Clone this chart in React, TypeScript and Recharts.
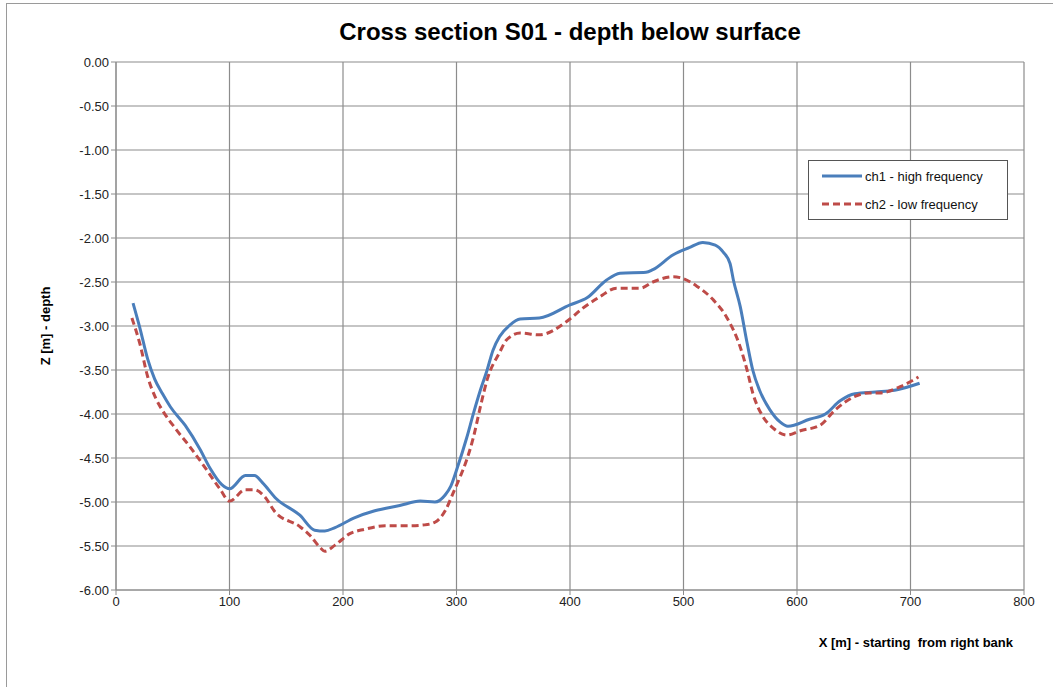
import { CartesianGrid, Line, LineChart, XAxis, YAxis } from "recharts";

// ch1 - high frequency
const ch1X = [15, 21, 28, 34, 41, 48, 61, 74, 83, 93, 100, 114, 122, 129, 141, 162, 175, 184, 193, 210, 228, 250, 268, 281, 290, 295, 301, 309, 315, 321, 327, 332, 338, 347, 356, 373, 400, 415, 432, 444, 467, 473, 491, 505, 517, 528, 535, 541, 544, 550, 556, 561, 567, 576, 585, 592, 611, 625, 638, 651, 669, 686, 708];
const ch1Z = [-2.74, -3.02, -3.38, -3.6, -3.77, -3.92, -4.13, -4.4, -4.62, -4.8, -4.85, -4.7, -4.7, -4.78, -4.96, -5.15, -5.32, -5.33, -5.29, -5.18, -5.1, -5.04, -4.99, -5.0, -4.92, -4.82, -4.6, -4.27, -3.99, -3.73, -3.5, -3.28, -3.12, -2.99, -2.92, -2.91, -2.76, -2.68, -2.48, -2.4, -2.39, -2.36, -2.19, -2.11, -2.05, -2.08, -2.16, -2.29, -2.48, -2.78, -3.19, -3.5, -3.73, -3.95, -4.09, -4.14, -4.06, -4.0, -3.85, -3.77, -3.75, -3.73, -3.65];

// ch2 - low frequency
const ch2X = [14, 21, 28, 35, 41, 52, 65, 78, 92, 100, 114, 122, 131, 140, 162, 171, 180, 184, 193, 206, 219, 237, 259, 272, 281, 290, 297, 303, 309, 315, 321, 327, 338, 344, 356, 373, 397, 411, 426, 441, 462, 473, 491, 497, 512, 526, 538, 550, 556, 561, 570, 579, 591, 603, 620, 634, 651, 664, 673, 691, 707];
const ch2Z = [-2.91, -3.2, -3.58, -3.82, -3.96, -4.16, -4.37, -4.6, -4.86, -4.99, -4.86, -4.86, -4.94, -5.11, -5.28, -5.38, -5.52, -5.56, -5.49, -5.36, -5.31, -5.27, -5.27, -5.26, -5.23, -5.1, -4.9, -4.72, -4.52, -4.26, -3.92, -3.61, -3.3, -3.16, -3.08, -3.1, -2.95, -2.8, -2.67, -2.57, -2.57, -2.5, -2.44, -2.45, -2.55, -2.7, -2.9, -3.24, -3.5, -3.76, -4.03, -4.16, -4.24, -4.19, -4.13, -3.95, -3.8, -3.76, -3.76, -3.69, -3.58];

const xTicks = [0, 100, 200, 300, 400, 500, 600, 700, 800];
const yTicks = [0, -0.5, -1, -1.5, -2, -2.5, -3, -3.5, -4, -4.5, -5, -5.5, -6];

const ch1 = ch1X.map((x, i) => ({ x, z: ch1Z[i] }));
const ch2 = ch2X.map((x, i) => ({ x, z: ch2Z[i] }));

const font = "'Liberation Sans', Arial, sans-serif";
const gridColor = "#8c8c8c";

function LegendBox() {
  const items = [
    { label: "ch1 - high frequency", color: "#4a7ebb", dash: undefined },
    { label: "ch2 - low frequency", color: "#be4b48", dash: "7 4" },
  ];
  return (
    <div
      style={{
        position: "absolute",
        left: 808,
        top: 160,
        width: 186,
        border: "1px solid #555",
        background: "#fff",
        padding: "1px 0 1px 12px",
        fontSize: 13,
        color: "#111",
      }}
    >
      {items.map((it) => (
        <div key={it.label} style={{ display: "flex", alignItems: "center", height: 28 }}>
          <svg width={42} height={8} style={{ marginRight: 2 }}>
            <line x1={1} y1={4} x2={41} y2={4} stroke={it.color} strokeWidth={3} strokeDasharray={it.dash} />
          </svg>
          <span>{it.label}</span>
        </div>
      ))}
    </div>
  );
}

export default function App() {
  return (
    <div style={{ position: "absolute", left: 0, top: 0, width: 1053, height: 687, background: "#fff", fontFamily: font }}>
      <div
        style={{
          position: "absolute",
          left: 6,
          top: 3,
          width: 1060,
          height: 700,
          border: "1px solid #9a9a9a",
        }}
      />
      <LineChart width={1053} height={687} margin={{ top: 62, right: 29, bottom: 67, left: 0 }} style={{ position: "absolute", left: 0, top: 0 }}>
        <CartesianGrid stroke={gridColor} strokeWidth={1.2} />
        <XAxis
          type="number"
          dataKey="x"
          domain={[0, 800]}
          ticks={xTicks}
          height={30}
          allowDataOverflow
          stroke={gridColor}
          tickSize={5}
          tick={{ fontSize: 13, fill: "#222", fontFamily: font }}
        />
        <YAxis
          type="number"
          dataKey="z"
          domain={[-6, 0]}
          ticks={yTicks}
          width={116}
          allowDataOverflow
          stroke={gridColor}
          tickSize={5}
          tickFormatter={(v: number) => v.toFixed(2)}
          tick={{ fontSize: 13, fill: "#222", fontFamily: font }}
          label={{
            value: "Z [m] - depth",
            angle: -90,
            position: "insideLeft",
            offset: 45,
            style: { fontSize: 13, fontWeight: "bold", fill: "#000", fontFamily: font, textAnchor: "middle" },
          }}
        />
        <Line
          data={ch1}
          dataKey="z"
          name="ch1 - high frequency"
          type="monotone"
          stroke="#4a7ebb"
          strokeWidth={3}
          dot={false}
          isAnimationActive={false}
        />
        <Line
          data={ch2}
          dataKey="z"
          name="ch2 - low frequency"
          type="monotone"
          stroke="#be4b48"
          strokeWidth={3}
          strokeDasharray="7 4"
          dot={false}
          isAnimationActive={false}
        />
      </LineChart>
      <div
        style={{
          position: "absolute",
          left: 116,
          width: 908,
          top: 18,
          textAlign: "center",
          fontSize: 24,
          fontWeight: "bold",
          color: "#000",
        }}
      >
        Cross section S01 - depth below surface
      </div>
      <div
        style={{
          position: "absolute",
          right: 40,
          top: 635,
          fontSize: 13,
          fontWeight: "bold",
          color: "#000",
        }}
      >
        X [m] - starting&nbsp; from right bank
      </div>
      <LegendBox />
    </div>
  );
}
